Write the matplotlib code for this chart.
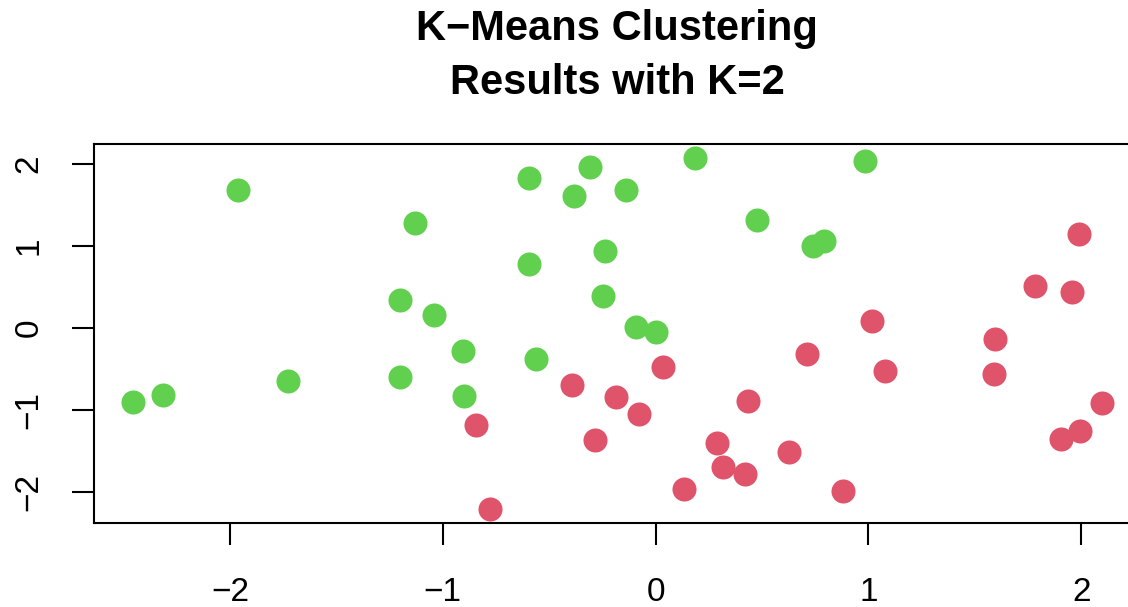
import matplotlib
matplotlib.use("Agg")
import matplotlib.pyplot as plt

plt.rcParams['font.family'] = ['Liberation Sans', 'DejaVu Sans']

# cluster 1 (green)
x_green = [-2.455, -2.316, -1.962, -1.727, -1.132, -0.594, -0.306, -0.383, -0.137,
           0.186, 0.479, -0.239, -0.596, -0.247, -1.201, -1.041, -0.092, 0.004,
           -0.903, -0.560, -1.201, -0.898, 0.986, 0.742, 0.792]
y_green = [-0.906, -0.820, 1.687, -0.645, 1.282, 1.830, 1.967, 1.607, 1.680,
           2.073, 1.315, 0.941, 0.779, 0.393, 0.336, 0.162, 0.016, -0.045,
           -0.280, -0.382, -0.597, -0.832, 2.037, 1.002, 1.059]

# cluster 2 (red)
x_red = [0.035, -0.391, -0.184, -0.079, 0.435, -0.842, -0.283, 0.290, 0.319,
         0.419, 0.134, -0.776, 1.990, 1.785, 1.959, 1.016, 0.711, 1.078,
         1.594, 1.592, 2.097, 1.995, 1.906, 0.626, 0.881]
y_red = [-0.475, -0.698, -0.840, -1.043, -0.889, -1.181, -1.368, -1.400, -1.697,
         -1.782, -1.960, -2.203, 1.144, 0.511, 0.438, 0.089, -0.317, -0.528,
         -0.139, -0.556, -0.918, -1.250, -1.351, -1.506, -1.993]

xticks = [-2, -1, 0, 1, 2]
yticks = [-2, -1, 0, 1, 2]

fig = plt.figure(figsize=(11.28, 6.07), dpi=100)
ax = fig.add_axes([0.0836, 0.1389, 0.9275, 0.6239])

ax.scatter(x_green, y_green, s=300, color='#61D04F', linewidths=0, zorder=3)
ax.scatter(x_red, y_red, s=300, color='#DF536B', linewidths=0, zorder=3)

ax.set_xlim(-2.637, 2.279)
ax.set_ylim(-2.374, 2.244)
ax.set_xticks(xticks)
ax.set_yticks(yticks)
ax.set_xticklabels([str(t).replace('-', '\u2212') for t in xticks])
ax.set_yticklabels([str(t).replace('-', '\u2212') for t in yticks],
                   rotation=90, va='center')

for sp in ax.spines.values():
    sp.set_linewidth(1.5)
ax.tick_params(axis='both', length=16, width=1.5, labelsize=24)
ax.tick_params(axis='x', pad=23)
ax.tick_params(axis='y', pad=20)

fig.text(617 / 1128, 1 - 56 / 607, 'K\u2212Means Clustering\nResults with K=2',
         ha='center', va='center', fontsize=30, fontweight='bold',
         linespacing=1.42)

fig.savefig('out.png', dpi=100)
